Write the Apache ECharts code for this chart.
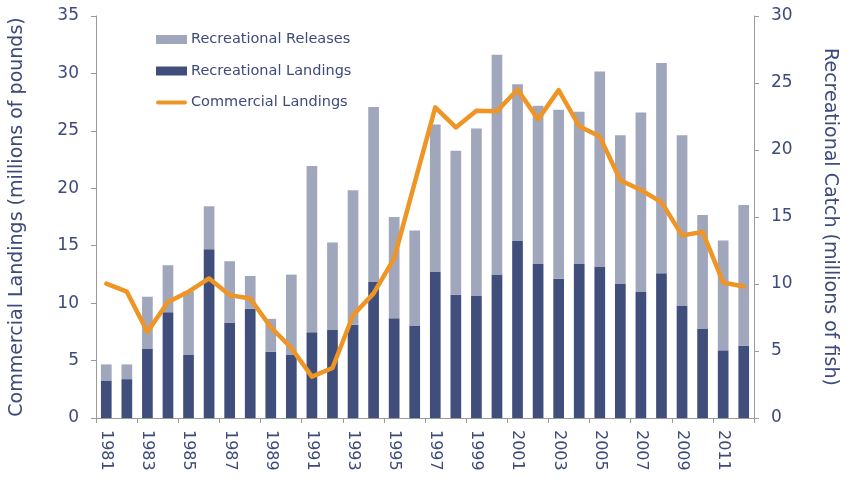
<!DOCTYPE html>
<html>
<head>
<meta charset="utf-8">
<script src="https://cdn.jsdelivr.net/npm/echarts@6/dist/echarts.min.js"></script>
<style>
  html, body { margin: 0; padding: 0; background: #ffffff; }
  #chart { width: 847px; height: 479px; }
</style>
</head>
<body>
<div id="chart"></div>
<script>
// Years on the category axis
const years = ['1981','1982','1983','1984','1985','1986','1987','1988','1989','1990',
  '1991','1992','1993','1994','1995','1996','1997','1998','1999','2000',
  '2001','2002','2003','2004','2005','2006','2007','2008','2009','2010',
  '2011','2012'];

// Recreational catch, millions of fish (right axis)
const recreationalLandings = [2.8, 2.9, 5.15, 7.9, 4.7, 12.6, 7.1, 8.15, 4.95, 4.7,
  6.4, 6.6, 6.95, 10.15, 7.45, 6.9, 10.9, 9.2, 9.1, 10.7,
  13.2, 11.5, 10.4, 11.5, 11.3, 10.0, 9.4, 10.8, 8.4, 6.65,
  5.05, 5.4];
const recreationalReleases = [1.2, 1.1, 3.9, 3.5, 4.75, 3.2, 4.6, 2.45, 2.45, 6.0,
  12.4, 6.5, 10.05, 13.05, 7.55, 7.1, 11.0, 10.75, 12.5, 16.4,
  11.7, 11.8, 12.6, 11.35, 14.55, 11.1, 13.4, 15.7, 12.7, 8.5,
  8.2, 10.5];

// Commercial landings, millions of pounds (left axis)
const commercialLandings = [11.7, 11.0, 7.5, 10.1, 11.0, 12.15, 10.7, 10.4, 7.9, 6.1,
  3.6, 4.35, 8.95, 10.85, 13.9, 20.5, 27.05, 25.3, 26.75, 26.7,
  28.6, 26.0, 28.55, 25.4, 24.5, 20.7, 19.85, 18.8, 15.9, 16.2,
  11.8, 11.45];

const leftTicks = { min: 0, max: 35, interval: 5 };
const rightTicks = { min: 0, max: 30, interval: 5 };

const navy = '#404e7b';
const grey = '#a0a6bc';
const orange = '#ee9526';
const textColor = '#3e4a7a';
const axisGrey = '#9a9a9a';
const fontFamily = '"DejaVu Sans", sans-serif';

const chart = echarts.init(document.getElementById('chart'), null, { renderer: 'canvas' });

chart.setOption({
  animation: false,
  textStyle: { fontFamily: fontFamily, color: textColor },
  grid: { left: 94, right: 79, top: 16, bottom: 61, containLabel: false },
  legend: {
    orient: 'vertical',
    left: 151,
    top: 27,
    itemWidth: 31,
    itemHeight: 9,
    itemGap: 16.5,
    selectedMode: false,
    symbolKeepAspect: true,
    textStyle: { fontFamily: fontFamily, fontSize: 14.5, color: textColor, padding: [0, 0, 0, -1] },
    data: [
      { name: 'Recreational Releases', icon: 'rect' },
      { name: 'Recreational Landings', icon: 'rect' },
      // thick rounded stroke for the line series
      { name: 'Commercial Landings', icon: 'path://M2,0H29A2,2,0,0,1,29,4H2A2,2,0,0,1,2,0Z' }
    ]
  },
  xAxis: {
    type: 'category',
    data: years,
    boundaryGap: true,
    axisLine: { lineStyle: { color: axisGrey, width: 1 } },
    axisTick: { show: true, interval: 1, length: 5, lineStyle: { color: axisGrey } },
    axisLabel: {
      interval: 1,
      rotate: -90,
      margin: 12,
      fontSize: 16,
      color: textColor,
      fontFamily: fontFamily
    }
  },
  yAxis: [
    {
      type: 'value',
      min: leftTicks.min,
      max: leftTicks.max,
      interval: leftTicks.interval,
      position: 'left',
      name: 'Commercial Landings (millions of pounds)',
      nameLocation: 'middle',
      nameGap: 69,
      nameTextStyle: { fontSize: 19, color: textColor, fontFamily: fontFamily },
      axisLine: { show: true, lineStyle: { color: axisGrey, width: 1 } },
      axisTick: { show: true, length: 5, lineStyle: { color: axisGrey } },
      splitLine: { show: false },
      axisLabel: { fontSize: 17, margin: 17, color: textColor, fontFamily: fontFamily }
    },
    {
      type: 'value',
      min: rightTicks.min,
      max: rightTicks.max,
      interval: rightTicks.interval,
      position: 'right',
      name: 'Recreational Catch (millions of fish)',
      nameLocation: 'middle',
      nameRotate: -90,
      nameGap: 66,
      nameTextStyle: { fontSize: 19, color: textColor, fontFamily: fontFamily },
      axisLine: { show: true, lineStyle: { color: axisGrey, width: 1 } },
      axisTick: { show: true, length: 5, lineStyle: { color: axisGrey } },
      splitLine: { show: false },
      axisLabel: { fontSize: 17, margin: 17, color: textColor, fontFamily: fontFamily }
    }
  ],
  series: [
    {
      name: 'Recreational Landings',
      type: 'bar',
      yAxisIndex: 1,
      stack: 'catch',
      barWidth: '52%',
      itemStyle: { color: navy },
      data: recreationalLandings
    },
    {
      name: 'Recreational Releases',
      type: 'bar',
      yAxisIndex: 1,
      stack: 'catch',
      barWidth: '52%',
      itemStyle: { color: grey },
      data: recreationalReleases
    },
    {
      name: 'Commercial Landings',
      type: 'line',
      yAxisIndex: 0,
      symbol: 'none',
      lineStyle: { color: orange, width: 4.5, join: 'round', cap: 'round' },
      itemStyle: { color: orange },
      z: 5,
      data: commercialLandings
    }
  ]
});
</script>
</body>
</html>
